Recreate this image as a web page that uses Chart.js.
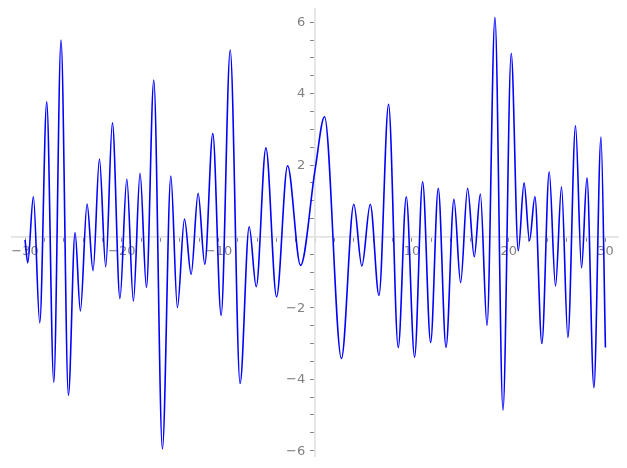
<!DOCTYPE html>
<html>
<head>
<meta charset="utf-8">
<script src="https://cdn.jsdelivr.net/npm/chart.js@4/dist/chart.umd.min.js"></script>
<style>
  body { margin: 0; background: #fff; }
  #wrap { width: 627px; height: 468px; }
</style>
</head>
<body>
<div id="wrap"><canvas id="plot"></canvas></div>
<script>
// turning points of the curve
const xs = [-30, -29.72, -29.14, -28.48, -27.76, -27.03, -26.28, -25.52, -24.83, -24.28,
  -23.59, -22.97, -22.31, -21.66, -20.97, -20.19, -19.48, -18.80, -18.11, -17.45,
  -16.69, -15.80, -14.93, -14.25, -13.52, -12.83, -12.11, -11.42, -10.59, -9.73,
  -8.79, -7.77, -6.83, -6.10, -5.10, -4.00, -2.86, -1.52, 0, 0.96,
  2.71, 3.99, 4.82, 5.69, 6.59, 7.58, 8.58, 9.41, 10.27, 11.10,
  11.93, 12.72, 13.52, 14.34, 15.03, 15.75, 16.44, 17.07, 17.76, 18.58,
  19.41, 20.26, 20.99, 21.59, 22.15, 22.71, 23.43, 24.19, 24.84, 25.46,
  26.12, 26.91, 27.53, 28.09, 28.81, 29.54, 30];
const ys = [-0.1, -0.74, 1.11, -2.42, 3.77, -4.09, 5.50, -4.45, 0.11, -2.09,
  0.91, -0.96, 2.17, -0.85, 3.18, -1.74, 1.61, -1.81, 1.77, -1.43,
  4.38, -5.95, 1.69, -1.99, 0.49, -1.06, 1.21, -0.78, 2.88, -2.21,
  5.22, -4.12, 0.27, -1.41, 2.48, -1.69, 1.98, -0.81, 1.9, 3.35,
  -3.42, 0.90, -0.83, 0.90, -1.65, 3.70, -3.11, 1.11, -3.38, 1.53,
  -2.97, 1.35, -3.11, 1.04, -1.29, 1.35, -0.57, 1.19, -2.49, 6.14,
  -4.87, 5.13, -0.40, 1.50, -0.12, 1.11, -3.00, 1.81, -1.39, 1.39,
  -2.83, 3.10, -0.88, 1.64, -4.24, 2.78, -3.11];

const xLabels = [-30, -20, -10, 10, 20, 30];
const yLabels = [-6, -4, -2, 2, 4, 6];
const xMinorStep = 2;
const yMinorStep = 0.5;

function tickList(lo, hi, step) {
  let out = [];
  for (let v = lo; v <= hi + 1e-9; v += step) out.push({ value: Math.round(v * 100) / 100 });
  return out;
}
function fmt(v) {
  return v < 0 ? '\u2212' + Math.abs(v) : String(v);
}
// centred axes: keep them from eating layout space
function noSpace(s) {
  if (s.isHorizontal()) s.height = 0; else s.width = 0;
  s.paddingLeft = s.paddingRight = s.paddingTop = s.paddingBottom = 0;
}

let points = xs.map((x, i) => ({ x: x, y: ys[i] }));

const labelColor = '#808080';
const tickFont = { family: 'DejaVu Sans', size: 13 };

// y labels sit left of the tick marks, the library puts them on the axis line
const yLabelPlugin = {
  id: 'yLabels',
  afterDraw(chart) {
    const ctx = chart.ctx;
    const x0 = chart.scales.x.getPixelForValue(0);
    ctx.save();
    ctx.font = '13px "DejaVu Sans"';
    ctx.fillStyle = labelColor;
    ctx.textAlign = 'right';
    ctx.textBaseline = 'middle';
    yLabels.forEach(v => {
      ctx.fillText(fmt(v), x0 - 10, chart.scales.y.getPixelForValue(v) + 0.5);
    });
    ctx.restore();
  }
};

new Chart(document.getElementById('plot'), {
  type: 'line',
  data: {
    datasets: [{
      data: points,
      borderColor: '#0000ff',
      borderWidth: 1.6,
      pointRadius: 0,
      fill: false,
      cubicInterpolationMode: 'monotone'
    }]
  },
  options: {
    responsive: true,
    maintainAspectRatio: false,
    animation: false,
    events: [],
    layout: { padding: { left: 12, right: 9, top: 9, bottom: 12 } },
    plugins: { legend: { display: false }, tooltip: { enabled: false } },
    scales: {
      x: {
        type: 'linear',
        position: { y: 0 },
        min: -31.35,
        max: 31.3,
        afterBuildTicks: s => { s.ticks = tickList(-30, 30, xMinorStep); },
        afterFit: noSpace,
        grid: { drawOnChartArea: false, drawTicks: true, tickLength: 4, tickColor: '#888', tickWidth: 1 },
        border: { color: '#e3e3e3', width: 1.8 },
        ticks: {
          autoSkip: false,
          maxRotation: 0,
          padding: 3,
          color: labelColor,
          font: tickFont,
          callback: v => xLabels.includes(v) ? fmt(v) : ''
        }
      },
      y: {
        type: 'linear',
        position: { x: 0 },
        min: -6.15,
        max: 6.37,
        afterBuildTicks: s => { s.ticks = tickList(-6, 6, yMinorStep); },
        afterFit: noSpace,
        grid: { drawOnChartArea: false, drawTicks: true, tickLength: 4, tickColor: '#888', tickWidth: 1 },
        border: { color: '#e3e3e3', width: 1.8 },
        ticks: { display: false }
      }
    }
  },
  plugins: [yLabelPlugin]
});
</script>
</body>
</html>
